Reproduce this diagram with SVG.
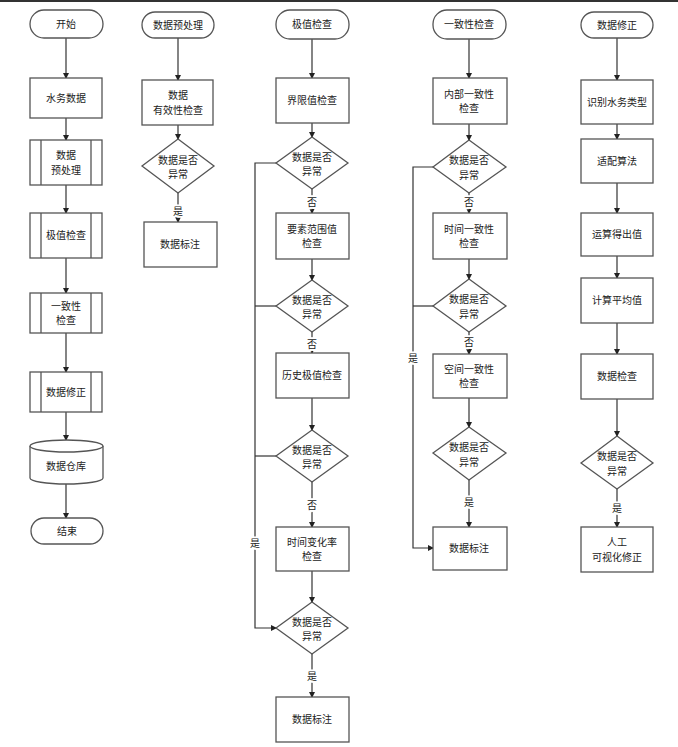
<svg xmlns="http://www.w3.org/2000/svg" width="678" height="747" viewBox="0 0 678 747">
<defs>
<marker id="arr" markerWidth="6" markerHeight="6" refX="5" refY="3" orient="auto" markerUnits="userSpaceOnUse">
<path d="M0,0 L6,3 L0,6 Z" fill="#222"/>
</marker>
<style>
.n{fill:#fff;stroke:#555;stroke-width:1.3}
.t{font-family:"Noto Sans CJK SC","Liberation Sans",sans-serif;font-size:10px;fill:#222;text-anchor:middle}
.c{fill:none;stroke:#333;stroke-width:1.2}
.a{marker-end:url(#arr)}
.l{font-family:"Noto Sans CJK SC","Liberation Sans",sans-serif;font-size:10px;fill:#222;text-anchor:middle;stroke:#fff;stroke-width:4;paint-order:stroke}
</style>
</defs>
<rect x="0" y="0" width="678" height="747" fill="#fff"/>
<rect x="0" y="0" width="678" height="2" fill="#333"/>

<g id="connectors">
<path class="c a" d="M66,38 V78"/>
<path class="c a" d="M66,118 V140"/>
<path class="c a" d="M66,185 V213"/>
<path class="c a" d="M66,258 V293"/>
<path class="c a" d="M66,333 V372"/>
<path class="c a" d="M66,412 V440"/>
<path class="c a" d="M66,484 V518"/>
<path class="c a" d="M178,38 V80"/>
<path class="c a" d="M178,125 V139"/>
<path class="c a" d="M178,193 V222"/>
<path class="c a" d="M312,39 V78"/>
<path class="c a" d="M312,123 V137"/>
<path class="c a" d="M312,189 V213"/>
<path class="c a" d="M312,259 V280"/>
<path class="c a" d="M312,332 V353"/>
<path class="c a" d="M312,398 V430"/>
<path class="c a" d="M312,482 V527"/>
<path class="c a" d="M312,571 V602"/>
<path class="c a" d="M312,654 V697"/>
<path class="c a" d="M276,163 H255 V628 H276"/>
<path class="c" d="M276,306 H255"/>
<path class="c" d="M276,456 H255"/>
<path class="c a" d="M469,39 V78"/>
<path class="c a" d="M469,124 V140"/>
<path class="c a" d="M469,193 V213"/>
<path class="c a" d="M469,259 V279"/>
<path class="c a" d="M469,332 V354"/>
<path class="c a" d="M469,398 V427"/>
<path class="c a" d="M469,480 V527"/>
<path class="c a" d="M433,167 H413 V548 H433"/>
<path class="c" d="M433,306 H413"/>
<path class="c a" d="M617,38 V80"/>
<path class="c a" d="M617,124 V139"/>
<path class="c a" d="M617,183 V213"/>
<path class="c a" d="M617,256 V278"/>
<path class="c a" d="M617,323 V354"/>
<path class="c a" d="M617,399 V436"/>
<path class="c a" d="M617,489 V527"/>
<text class="l" x="178" y="215">是</text>
<text class="l" x="312" y="206">否</text>
<text class="l" x="312" y="348">否</text>
<text class="l" x="312" y="509">否</text>
<text class="l" x="312" y="680">是</text>
<text class="l" x="255" y="547">是</text>
<text class="l" x="469" y="206">否</text>
<text class="l" x="469" y="346">否</text>
<text class="l" x="469" y="506">是</text>
<text class="l" x="413" y="362">是</text>
<text class="l" x="617" y="512">是</text>
</g>

<g id="start"><rect class="n" x="30" y="10" width="73" height="28" rx="14"/><text class="t" x="66" y="27.8">开始</text></g>
<g id="water-data"><rect class="n" x="30" y="78" width="72" height="40"/><text class="t" x="66" y="101.8">水务数据</text></g>
<g id="preprocess"><rect class="n" x="30" y="140" width="72" height="45"/><path class="n" d="M41,140 V185 M91,140 V185"/><text class="t" x="66" y="159.3">数据<tspan x="66" dy="14.5">预处理</tspan></text></g>
<g id="extreme"><rect class="n" x="30" y="213" width="72" height="45"/><path class="n" d="M41,213 V258 M91,213 V258"/><text class="t" x="66" y="239.3">极值检查</text></g>
<g id="consistency"><rect class="n" x="30" y="293" width="72" height="40"/><path class="n" d="M41,293 V333 M91,293 V333"/><text class="t" x="66" y="309.8">一致性<tspan x="66" dy="14.5">检查</tspan></text></g>
<g id="correction"><rect class="n" x="30" y="372" width="72" height="40"/><path class="n" d="M41,372 V412 M91,372 V412"/><text class="t" x="66" y="395.8">数据修正</text></g>
<g id="warehouse"><path class="n" d="M30,446 A36.5,6 0 0 1 103,446 V478 A36.5,6 0 0 1 30,478 Z"/><path class="n" d="M30,446 A36.5,6 0 0 0 103,446" fill="none"/><text class="t" x="66" y="470">数据仓库</text></g>
<g id="end"><rect class="n" x="31" y="518" width="72" height="26" rx="13"/><text class="t" x="67" y="534.8">结束</text></g>

<g id="pre-start"><rect class="n" x="142" y="12" width="72" height="26" rx="13"/><text class="t" x="178" y="28.8">数据预处理</text></g>
<g id="validity"><rect class="n" x="142" y="80" width="71" height="45"/><text class="t" x="178" y="99.3">数据<tspan x="178" dy="14.5">有效性检查</tspan></text></g>
<g id="pre-dec"><path class="n" d="M178,139 L214,166 L178,193 L142,166 Z"/><text class="t" x="178" y="163.8">数据是否<tspan x="178" dy="14.5">异常</tspan></text></g>
<g id="pre-mark"><rect class="n" x="144" y="222" width="73" height="45"/><text class="t" x="180" y="248.3">数据标注</text></g>

<g id="ext-start"><rect class="n" x="276" y="10" width="73" height="29" rx="14"/><text class="t" x="312" y="28.3">极值检查</text></g>
<g id="limit"><rect class="n" x="276" y="78" width="73" height="45"/><text class="t" x="312" y="104.3">界限值检查</text></g>
<g id="ext-dec1"><path class="n" d="M312,137 L348,163 L312,189 L276,163 Z"/><text class="t" x="312" y="160.8">数据是否<tspan x="312" dy="14.5">异常</tspan></text></g>
<g id="range"><rect class="n" x="276" y="213" width="73" height="46"/><text class="t" x="312" y="232.8">要素范围值<tspan x="312" dy="14.5">检查</tspan></text></g>
<g id="ext-dec2"><path class="n" d="M312,280 L348,306 L312,332 L276,306 Z"/><text class="t" x="312" y="303.8">数据是否<tspan x="312" dy="14.5">异常</tspan></text></g>
<g id="history"><rect class="n" x="276" y="353" width="73" height="45"/><text class="t" x="312" y="379.3">历史极值检查</text></g>
<g id="ext-dec3"><path class="n" d="M312,430 L348,456 L312,482 L276,456 Z"/><text class="t" x="312" y="453.8">数据是否<tspan x="312" dy="14.5">异常</tspan></text></g>
<g id="rate"><rect class="n" x="276" y="527" width="73" height="44"/><text class="t" x="312" y="545.8">时间变化率<tspan x="312" dy="14.5">检查</tspan></text></g>
<g id="ext-dec4"><path class="n" d="M312,602 L348,628 L312,654 L276,628 Z"/><text class="t" x="312" y="625.8">数据是否<tspan x="312" dy="14.5">异常</tspan></text></g>
<g id="ext-mark"><rect class="n" x="276" y="697" width="73" height="45"/><text class="t" x="312" y="723.3">数据标注</text></g>

<g id="con-start"><rect class="n" x="433" y="10" width="73" height="29" rx="14"/><text class="t" x="469" y="28.3">一致性检查</text></g>
<g id="internal"><rect class="n" x="433" y="78" width="74" height="46"/><text class="t" x="469" y="97.8">内部一致性<tspan x="469" dy="14.5">检查</tspan></text></g>
<g id="con-dec1"><path class="n" d="M469,140 L506,167 L469,193 L433,167 Z"/><text class="t" x="469" y="164.3">数据是否<tspan x="469" dy="14.5">异常</tspan></text></g>
<g id="temporal"><rect class="n" x="433" y="213" width="74" height="46"/><text class="t" x="469" y="232.8">时间一致性<tspan x="469" dy="14.5">检查</tspan></text></g>
<g id="con-dec2"><path class="n" d="M469,279 L506,306 L469,332 L433,306 Z"/><text class="t" x="469" y="303.3">数据是否<tspan x="469" dy="14.5">异常</tspan></text></g>
<g id="spatial"><rect class="n" x="433" y="354" width="74" height="44"/><text class="t" x="469" y="372.8">空间一致性<tspan x="469" dy="14.5">检查</tspan></text></g>
<g id="con-dec3"><path class="n" d="M469,427 L506,453 L469,480 L433,453 Z"/><text class="t" x="469" y="451.3">数据是否<tspan x="469" dy="14.5">异常</tspan></text></g>
<g id="con-mark"><rect class="n" x="433" y="527" width="74" height="43"/><text class="t" x="469" y="552.3">数据标注</text></g>

<g id="fix-start"><rect class="n" x="581" y="12" width="72" height="26" rx="13"/><text class="t" x="617" y="28.8">数据修正</text></g>
<g id="identify"><rect class="n" x="581" y="80" width="72" height="44"/><text class="t" x="617" y="105.8">识别水务类型</text></g>
<g id="adapt"><rect class="n" x="581" y="139" width="72" height="44"/><text class="t" x="617" y="164.8">适配算法</text></g>
<g id="compute"><rect class="n" x="581" y="213" width="72" height="43"/><text class="t" x="617" y="238.3">运算得出值</text></g>
<g id="average"><rect class="n" x="581" y="278" width="72" height="45"/><text class="t" x="617" y="304.3">计算平均值</text></g>
<g id="check"><rect class="n" x="581" y="354" width="72" height="45"/><text class="t" x="617" y="380.3">数据检查</text></g>
<g id="fix-dec"><path class="n" d="M617,436 L653,463 L617,489 L581,463 Z"/><text class="t" x="617" y="460.3">数据是否<tspan x="617" dy="14.5">异常</tspan></text></g>
<g id="manual"><rect class="n" x="581" y="527" width="72" height="45"/><text class="t" x="617" y="546.3">人工<tspan x="617" dy="14.5">可视化修正</tspan></text></g>
</svg>
